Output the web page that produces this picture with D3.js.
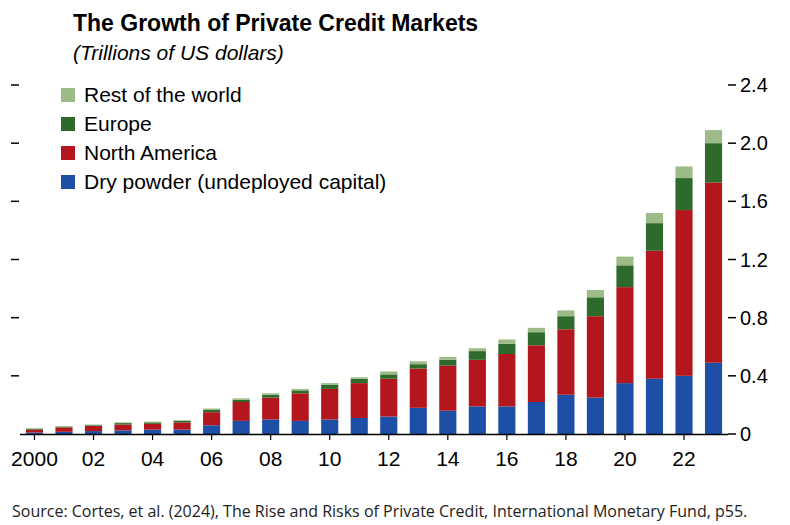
<!DOCTYPE html>
<html><head><meta charset="utf-8">
<script src="https://cdn.jsdelivr.net/npm/d3@7"></script>
<style>body{margin:0;background:#fff}</style>
</head><body>
<script>
// data (trillions USD)
const years = d3.range(2000, 2024);
const dryPowder = [0.01,0.015,0.02,0.025,0.03,0.03,0.06,0.09,0.10,0.09,0.10,0.11,0.12,0.18,0.16,0.19,0.19,0.22,0.27,0.25,0.35,0.38,0.40,0.49];
const northAmerica = [0.02,0.03,0.035,0.04,0.04,0.05,0.09,0.13,0.15,0.19,0.21,0.24,0.26,0.27,0.31,0.32,0.36,0.39,0.45,0.56,0.66,0.88,1.14,1.24];
const europe = [0.005,0.005,0.005,0.01,0.01,0.01,0.015,0.015,0.02,0.02,0.03,0.03,0.03,0.03,0.04,0.06,0.07,0.09,0.09,0.13,0.15,0.19,0.22,0.27];
const restOfWorld = [0.005,0.005,0.005,0.005,0.005,0.005,0.01,0.01,0.01,0.01,0.01,0.01,0.02,0.02,0.02,0.02,0.03,0.03,0.04,0.05,0.06,0.07,0.08,0.09];
const yTicks = [0,0.4,0.8,1.2,1.6,2.0,2.4];
const xLabels = ["2000","02","04","06","08","10","12","14","16","18","20","22"];

const keys = ["dry","na","eu","row"];
const colors = {dry:"#1d4fa6", na:"#b3171d", eu:"#2d6a2b", row:"#9dbb86"};
const names = {row:"Rest of the world", eu:"Europe", na:"North America", dry:"Dry powder (undeployed capital)"};

const rows = years.map((y,i)=>({year:y, dry:dryPowder[i], na:northAmerica[i], eu:europe[i], row:restOfWorld[i]}));
const stack = d3.stack().keys(keys)(rows);

const svg = d3.select("body").append("svg").attr("width",790).attr("height",525);

const x = d3.scaleBand().domain(years).range([20,728]).paddingInner(0.42).paddingOuter(0.2);
const y = d3.scaleLinear().domain([0,2.4]).range([434,85]);

svg.append("text").attr("x",73).attr("y",31).attr("font-family","Liberation Sans Narrow, Arial Narrow, sans-serif")
  .attr("font-weight","bold").attr("font-size",23).text("The Growth of Private Credit Markets");
svg.append("text").attr("x",73).attr("y",60).attr("font-family","Liberation Sans Narrow, sans-serif")
  .attr("font-style","italic").attr("font-size",21).text("(Trillions of US dollars)");

// bars
svg.append("g").selectAll("g").data(stack).join("g").attr("fill",d=>colors[d.key])
  .selectAll("rect").data(d=>d).join("rect")
  .attr("x",d=>x(d.data.year)).attr("width",x.bandwidth())
  .attr("y",d=>y(d[1])).attr("height",d=>y(d[0])-y(d[1]));

// baseline
svg.append("line").attr("x1",20).attr("x2",728).attr("y1",434.5).attr("y2",434.5).attr("stroke","#000").attr("stroke-width",1.5);

// right axis
const ay = svg.append("g").attr("transform","translate(728,0)");
yTicks.forEach(t=>{
  ay.append("line").attr("x1",0).attr("x2",8).attr("y1",y(t)).attr("y2",y(t)).attr("stroke","#000").attr("stroke-width",1.5);
  ay.append("text").attr("x",12).attr("y",y(t)+7).attr("font-family","Liberation Sans Narrow, sans-serif").attr("font-size",20)
    .text(t===0?"0":t.toFixed(1));
  // left dashes
  if(t>0) svg.append("line").attr("x1",11).attr("x2",19).attr("y1",y(t)).attr("y2",y(t)).attr("stroke","#000").attr("stroke-width",1.5);
});

// x labels
xLabels.forEach((l,i)=>{
  const yr = 2000+2*i;
  svg.append("text").attr("x",x(yr)+x.bandwidth()/2).attr("y",466).attr("text-anchor","middle")
    .attr("font-family","Liberation Sans Narrow, sans-serif").attr("font-size",21).text(l);
  svg.append("line").attr("x1",x(yr)+x.bandwidth()/2).attr("x2",x(yr)+x.bandwidth()/2).attr("y1",434).attr("y2",440).attr("stroke","#000").attr("stroke-width",1.2);
});

// legend
["row","eu","na","dry"].forEach((k,i)=>{
  const ly = 96 + i*29;
  svg.append("rect").attr("x",61).attr("y",ly-8).attr("width",14).attr("height",14).attr("fill",colors[k]);
  svg.append("text").attr("x",84).attr("y",ly+6).attr("font-family","Liberation Sans Narrow, sans-serif").attr("font-size",21).text(names[k]);
});

svg.append("text").attr("x",12).attr("y",517).attr("font-family","Open Sans, sans-serif").attr("font-size",16).attr("fill","#222")
  .text("Source: Cortes, et al. (2024), The Rise and Risks of Private Credit, International Monetary Fund, p55.");
</script>
</body></html>
